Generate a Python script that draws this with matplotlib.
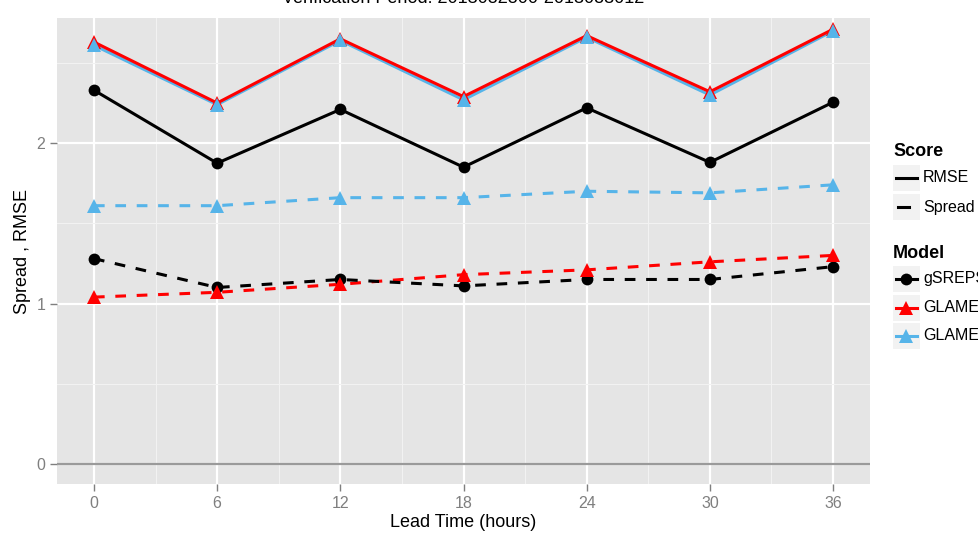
import numpy as np
import matplotlib
matplotlib.use("Agg")
import matplotlib.pyplot as plt
from matplotlib.lines import Line2D
from matplotlib.patches import Rectangle

plt.rcParams['font.family'] = ['Liberation Sans', 'DejaVu Sans']

lead = [0, 6, 12, 18, 24, 30, 36]

# RMSE per model
rmse_gsreps = [2.33, 1.875, 2.21, 1.85, 2.22, 1.88, 2.255]
rmse_glameps_red = [2.63, 2.25, 2.65, 2.29, 2.67, 2.32, 2.71]
rmse_glameps_blue = [2.61, 2.24, 2.64, 2.27, 2.66, 2.30, 2.70]

# Spread per model
spread_gsreps = [1.28, 1.10, 1.15, 1.11, 1.15, 1.15, 1.23]
spread_glameps_red = [1.04, 1.07, 1.12, 1.18, 1.21, 1.26, 1.30]
spread_glameps_blue = [1.61, 1.61, 1.66, 1.66, 1.70, 1.69, 1.74]

models = ["gSREPS", "GLAMEPSv2", "GLAMEPSv1"]
colors = ["black", "#FF0000", "#56B4E9"]
markers = ["o", "^", "^"]
msizes = [8.5, 10.5, 10.5]

W, H = 979, 533
fig = plt.figure(figsize=(W / 100, H / 100), dpi=100)
ax = fig.add_axes([57 / W, 1 - 484 / H, (870 - 57) / W, (484 - 18) / H])
ax.set_facecolor("#E5E5E5")

rmse = [rmse_gsreps, rmse_glameps_red, rmse_glameps_blue]
spread = [spread_gsreps, spread_glameps_red, spread_glameps_blue]

ax.axhline(0, color="#9a9a9a", lw=1.6, zorder=1.5)

# lines first (blue under red), then points
line_order = [2, 1, 0]
for i in line_order:
    ax.plot(lead, rmse[i], color=colors[i], lw=2.2, zorder=2, solid_capstyle="butt")
    ax.plot(lead, spread[i], color=colors[i], lw=2.2, zorder=2,
            dashes=(3.5, 3.5))
for i in range(3):
    for vals in (rmse[i], spread[i]):
        ax.plot(lead, vals, ls="none", marker=markers[i], ms=msizes[i],
                color=colors[i], zorder=3 + i, markeredgewidth=0)

ax.set_xlim(-1.8, 37.8)
ax.set_ylim(-0.125, 2.78)
ax.set_xticks(lead)
ax.set_yticks([0, 1, 2])
ax.set_xticks([3, 9, 15, 21, 27, 33], minor=True)
ax.set_yticks([0.5, 1.5, 2.5], minor=True)
ax.grid(which="major", color="white", lw=1.6)
ax.grid(which="minor", color="#F2F2F2", lw=0.8)
ax.set_axisbelow(True)
for s in ax.spines.values():
    s.set_visible(False)
ax.tick_params(which="major", color="#7F7F7F", length=5, width=1,
               labelcolor="#7F7F7F", labelsize=11.5)
ax.tick_params(which="minor", length=0)
ax.set_xlabel("Lead Time (hours)", fontsize=13, labelpad=2)
ax.set_ylabel("Spread , RMSE", fontsize=13, labelpad=4)

# title sits mostly above the cropped top edge
fig.text((57 + 870) / 2 / W, 1 - 3 / H, "Verification Period: 2013082800-2013083012",
         ha="center", va="baseline", fontsize=13)

# legend drawn by hand
def px(x, y):
    return x / W, 1 - y / H

lx = 893
fig.text(*px(lx, 152), "Score", fontsize=13, fontweight="bold", va="center")
for k, lab in enumerate(["RMSE", "Spread"]):
    yc = 178 + 29 * k
    fig.add_artist(Rectangle(px(lx, yc + 13), 27 / W, 26 / H, transform=fig.transFigure,
                             facecolor="#F2F2F2", edgecolor="none"))
    x_end = lx + 24 if k == 0 else lx + 16
    x_start = lx + 3 if k == 0 else lx + 5
    fig.add_artist(Line2D([px(x_start, 0)[0], px(x_end, 0)[0]], [px(0, yc)[1]] * 2,
                          color="black", lw=2.2, transform=fig.transFigure))
    fig.text(*px(lx + 30, yc), lab, fontsize=11.5, va="center")

fig.text(*px(lx, 253), "Model", fontsize=13, fontweight="bold", va="center")
for k in range(3):
    yc = 279 + 28.5 * k
    fig.add_artist(Rectangle(px(lx, yc + 13), 27 / W, 26 / H, transform=fig.transFigure,
                             facecolor="#F2F2F2", edgecolor="none"))
    fig.add_artist(Line2D([px(lx + 3, 0)[0], px(lx + 24, 0)[0]], [px(0, yc)[1]] * 2,
                          color=colors[k], lw=2.2, transform=fig.transFigure))
    fig.add_artist(Line2D([px(lx + 13.5, 0)[0]], [px(0, yc)[1]], color=colors[k],
                          marker=markers[k], ms=msizes[k], markeredgewidth=0,
                          transform=fig.transFigure))
    fig.text(*px(lx + 30, yc), models[k], fontsize=11.5, va="center")

fig.savefig("out.png", dpi=100, facecolor="white")
